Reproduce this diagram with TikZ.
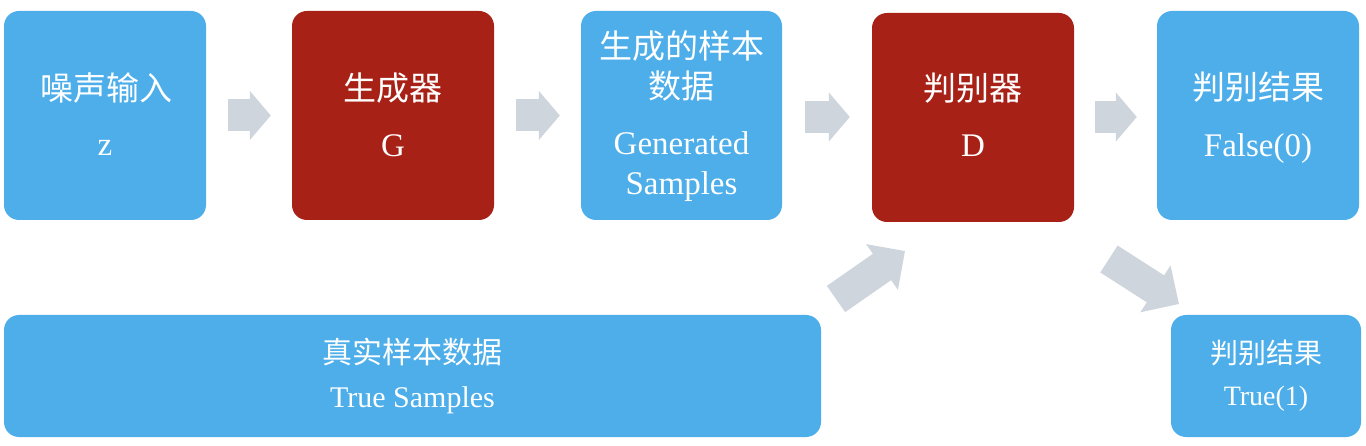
\documentclass[tikz,border=0pt]{standalone}
\usepackage{fontspec}
\setmainfont{Liberation Serif}
\newfontfamily\cjk{Noto Sans CJK SC}
\usetikzlibrary{arrows.meta}
\definecolor{boxblue}{HTML}{4DAEEA}
\definecolor{boxred}{HTML}{A82116}
\definecolor{arrgray}{HTML}{CFD5DD}
\begin{document}
\begin{tikzpicture}[x=1pt,y=-1pt,
  box/.style={rectangle, rounded corners=15pt, inner sep=0pt, draw=none},
  bluebox/.style={box, fill=boxblue},
  redbox/.style={box, fill=boxred},
  lbl/.style={text=white, inner sep=0pt, anchor=base, font=\fontsize{33}{40}\selectfont},
  lblm/.style={lbl, font=\fontsize{30}{36}\selectfont},
  lbls/.style={lbl, font=\fontsize{28}{34}\selectfont},
  harrow/.style={draw=arrgray, line width=32pt, -{Triangle[width=48pt,length=21pt,fill=arrgray]}},
  darrow/.style={draw=arrgray, line width=32pt, -{Triangle[width=54pt,length=28pt,fill=arrgray]}}
]
\useasboundingbox (0,0) rectangle (1366,446);
\fill[white] (0,0) rectangle (1366,446);

% boxes
\node[bluebox, minimum width=202pt, minimum height=209pt] (b1) at (105,115.5) {};
\node[redbox,  minimum width=202pt, minimum height=209pt] (g)  at (393,115.5) {};
\node[bluebox, minimum width=201pt, minimum height=209pt] (b3) at (681.5,115.5) {};
\node[redbox,  minimum width=202pt, minimum height=209pt] (d)  at (973,117.5) {};
\node[bluebox, minimum width=202pt, minimum height=209pt] (b5) at (1258,115.5) {};
\node[bluebox, minimum width=817pt, minimum height=122pt] (real) at (412.5,376) {};
\node[bluebox, minimum width=190pt, minimum height=122pt] (b7) at (1266,376) {};

% texts
\node[lbl] (t1a) at (106,101) {\cjk 噪声输入};
\node[lbl] (t1b) at (105,156) {z};
\node[lbl] (t2a) at (393,101) {\cjk 生成器};
\node[lbl] (t2b) at (393,157) {G};
\node[lbl] (t3a) at (681.5,59) {\cjk 生成的样本};
\node[lbl] (t3b) at (681.5,99) {\cjk 数据};
\node[lbl] (t3c) at (681.5,155) {Generated};
\node[lbl] (t3d) at (681.5,195) {Samples};
\node[lbl] (t4a) at (973,101) {\cjk 判别器};
\node[lbl] (t4b) at (973,157) {D};
\node[lbl] (t5a) at (1258,100) {\cjk 判别结果};
\node[lbl] (t5b) at (1258,157) {False(0)};
\node[lblm] (t6a) at (412.5,363) {\cjk 真实样本数据};
\node[lblm] (t6b) at (412.5,407) {True Samples};
\node[lbls] (t7a) at (1266,363) {\cjk 判别结果};
\node[lbls] (t7b) at (1266,406) {True(1)};

% arrows
\draw[harrow] ([xshift=22pt]b1.east) -- ([xshift=-21pt]g.west);
\draw[harrow] ([xshift=22pt]g.east) -- ([xshift=-21pt]b3.west);
\draw[harrow] ([xshift=23pt,yshift=-1.5pt]b3.east) -- ([xshift=-22pt,yshift=0.5pt]d.west);
\draw[harrow] ([xshift=21pt,yshift=0.5pt]d.east) -- ([xshift=-20pt,yshift=-1.5pt]b5.west);
\coordinate (u1) at (836,299);
\coordinate (u2) at (905,251);
\coordinate (v1) at (1109,259);
\coordinate (v2) at (1179,304);
\draw[darrow] (u1) -- (u2);
\draw[darrow] (v1) -- (v2);
\end{tikzpicture}
\end{document}
